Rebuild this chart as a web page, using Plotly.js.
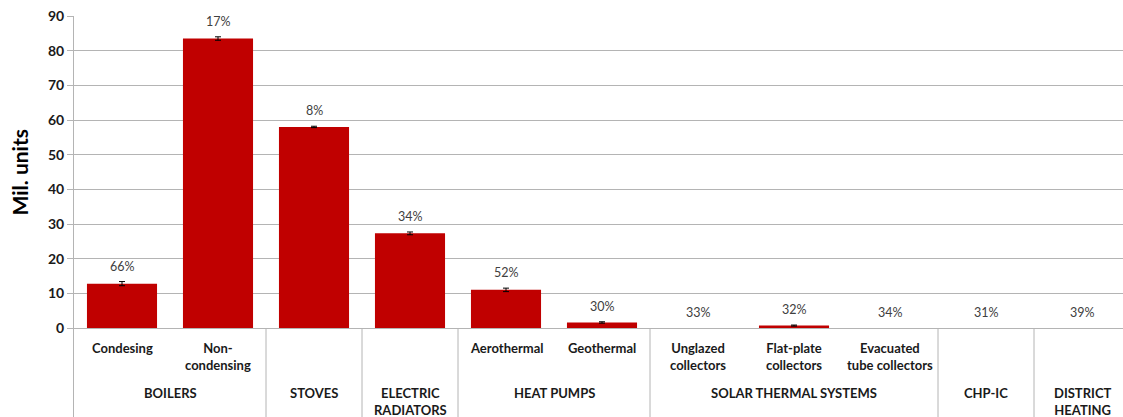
<!DOCTYPE html>
<html>
<head>
<meta charset="utf-8">
<script src="https://cdn.plot.ly/plotly-3.0.1.min.js"></script>
<style>html,body{margin:0;padding:0;background:#fff;}</style>
</head>
<body>
<div id="chart" style="width:1123px;height:417px;"></div>
<script>
// ---- data ----
var categories = ["Condesing","Non-condensing","Stoves","Electric radiators","Aerothermal","Geothermal","Unglazed collectors","Flat-plate collectors","Evacuated tube collectors","CHP-IC","District heating"];
var subLabels = ["Condesing","Non-<br>condensing","","","Aerothermal","Geothermal","Unglazed<br>collectors","Flat-plate<br>collectors","Evacuated<br>tube collectors","",""];
var values = [12.8, 83.5, 58.0, 27.3, 11.0, 1.6, 0, 0.7, 0, 0, 0];
var errors = [0.6, 0.5, 0.2, 0.4, 0.5, 0.2, NaN, 0.15, NaN, NaN, NaN];
var shares = ["66%","17%","8%","34%","52%","30%","33%","32%","34%","31%","39%"];
var groupNames = ["BOILERS","STOVES","ELECTRIC<br>RADIATORS","HEAT PUMPS","SOLAR THERMAL SYSTEMS","CHP-IC","DISTRICT<br>HEATING"];
var groupStart = [0, 2, 3, 4, 6, 9, 10];
var groupEnd   = [1, 2, 3, 5, 8, 9, 10];
var yTicks = [0,10,20,30,40,50,60,70,80,90];

// ---- layout helpers ----
var GRID = "#b4b4b4";
var BAR = "#c00000";
var yBottom = -25.67;
var FONT = "Lato, 'Open Sans', sans-serif";
var catFont = {family: FONT, size: 13, color: "#1a1a1a", weight: "bold"};

var trace = {
  type: "bar",
  x: categories,
  y: values,
  width: 0.73,
  marker: {color: BAR, line: {width: 0}},
  error_y: {type: "data", array: errors, visible: true, color: "#000", thickness: 1, width: 3},
  hoverinfo: "skip"
};

var annotations = [];
// percentage labels
for (var i = 0; i < categories.length; i++) {
  var e = isNaN(errors[i]) ? 0 : errors[i];
  annotations.push({
    x: categories[i], y: values[i] + e, xref: "x", yref: "y",
    text: shares[i], showarrow: false, yanchor: "bottom", yshift: 6,
    font: {family: FONT, size: 12.5, color: "#404040"}
  });
}
// sub-category labels
for (var i = 0; i < categories.length; i++) {
  if (!subLabels[i]) continue;
  annotations.push({
    x: categories[i], y: -2.8, xref: "x", yref: "y",
    text: subLabels[i], showarrow: false, yanchor: "top",
    font: catFont
  });
}
// group labels + dividers
var shapes = [];
for (var g = 0; g < groupNames.length; g++) {
  annotations.push({
    x: (groupStart[g] + groupEnd[g]) / 2, y: -16.0, xref: "x", yref: "y",
    text: groupNames[g], showarrow: false, yanchor: "top",
    font: catFont
  });
  if (g < groupNames.length - 1) {
    shapes.push({
      type: "line", xref: "x", yref: "y",
      x0: groupEnd[g] + 0.5, x1: groupEnd[g] + 0.5, y0: 0, y1: yBottom,
      line: {color: GRID, width: 1}
    });
  }
}
// y title
annotations.push({
  xref: "paper", yref: "y", x: -0.052, y: 45, xanchor: "center", yanchor: "middle",
  text: "Mil. units", textangle: -90, showarrow: false,
  font: {family: FONT, size: 21, color: "#000", weight: "bold"}
});

var layout = {
  width: 1123, height: 417,
  margin: {l: 74, r: 0, t: 16, b: 0, pad: 0},
  paper_bgcolor: "#fff", plot_bgcolor: "#fff",
  showlegend: false,
  xaxis: {
    type: "category", range: [-0.5, 10.427], showticklabels: false,
    showgrid: false, zeroline: false, showline: false, ticks: "", fixedrange: true
  },
  yaxis: {
    range: [yBottom, 90], tickvals: yTicks, ticktext: yTicks.map(String),
    showgrid: true, gridcolor: GRID, gridwidth: 1,
    zeroline: true, zerolinecolor: GRID, zerolinewidth: 1,
    showline: true, linecolor: GRID, linewidth: 1,
    ticks: "outside", ticklen: 6, tickcolor: GRID,
    tickfont: {family: FONT, size: 14, color: "#1a1a1a", weight: "bold"},
    fixedrange: true
  },
  annotations: annotations,
  shapes: shapes
};

Plotly.newPlot("chart", [trace], layout, {displayModeBar: false, staticPlot: true});
</script>
</body>
</html>
